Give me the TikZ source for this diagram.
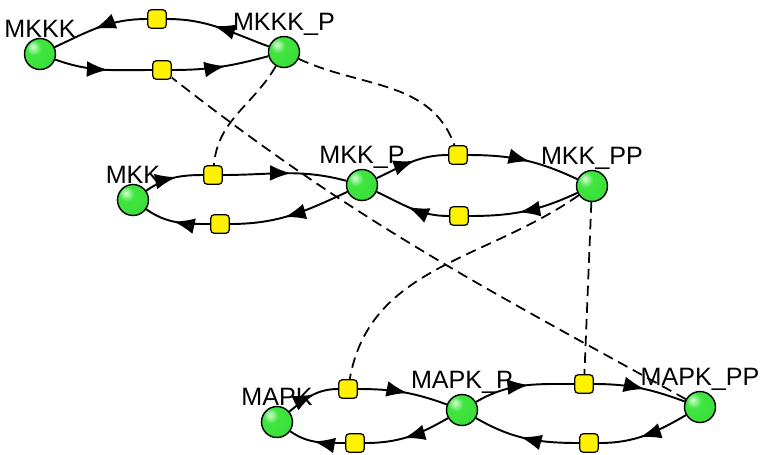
\documentclass[tikz,border=0pt]{standalone}
\usepackage{fontspec}
\setmainfont{Liberation Sans}
\usetikzlibrary{arrows.meta,decorations.markings}

\definecolor{speciesgreen}{rgb}{0.25,0.9,0.25}
\definecolor{speciesedge}{rgb}{0.1,0.7,0.1}
\definecolor{reactionyellow}{rgb}{1,0.95,0}
\pgfdeclareradialshading{speciesball}{\pgfpoint{-12bp}{12bp}}{color(0bp)=(white!85!green); color(12bp)=(speciesgreen); color(40bp)=(speciesgreen!80!speciesedge); color(70bp)=(speciesedge)}

\begin{document}
\begin{tikzpicture}[x=0.02cm, y=-0.02cm,
    species/.style={circle, draw=black, line width=0.8pt, shading=speciesball, minimum size=0.62cm, inner sep=0pt, label distance=-0.5pt},
    reaction/.style={rectangle, rounded corners=2pt, draw=black, line width=0.7pt, fill=reactionyellow, minimum size=0.37cm, inner sep=0pt},
    lbl/.style={font=\fontsize{14.3}{16}\selectfont, inner sep=0pt},
    flow/.style={line width=1.1pt, postaction={decorate}, decoration={markings, mark=at position 0.55 with {\arrow{Latex[length=12pt,width=9pt]}}}},
    modifier/.style={line width=1pt, dash pattern=on 6pt off 3.5pt}]
            \useasboundingbox (0,0) rectangle (763,454);

            \node[species, label={[lbl]above:MKKK}] (MKKK) at (40,54) {};
            \node[species, label={[lbl]above:MKKK\_P}] (MKKK_P) at (284,52) {};
            \node[species, label={[lbl]above:MKK}] (MKK) at (133,200) {};
            \node[species, label={[lbl]above:MKK\_P}] (MKK_P) at (362,185) {};
            \node[species, label={[lbl]above:MKK\_PP}] (MKK_PP) at (592,186) {};
            \node[species, label={[lbl]above:MAPK}] (MAPK) at (277,422) {};
            \node[species, label={[lbl]above:MAPK\_P}] (MAPK_P) at (462,410) {};
            \node[species, label={[lbl]above:MAPK\_PP}] (MAPK_PP) at (700,407) {};

            \node[reaction] (r1) at (157,19) {};
            \node[reaction] (r2) at (162,70) {};
            \node[reaction] (r3) at (213,175) {};
            \node[reaction] (r4) at (220,224) {};
            \node[reaction] (r5) at (458,155) {};
            \node[reaction] (r6) at (459,216) {};
            \node[reaction] (r7) at (348,389) {};
            \node[reaction] (r8) at (355,443) {};
            \node[reaction] (r9) at (584,384) {};
            \node[reaction] (r10) at (589,443) {};

            \draw[flow] (MKKK) to[out=-20, in=180] (r2);
            \draw[flow] (r2) to[out=0, in=195] (MKKK_P);
            \draw[flow] (MKKK_P) to[out=160, in=0] (r1);
            \draw[flow] (r1) to[out=180, in=25] (MKKK);

            \draw[flow] (MKK) to[out=35, in=180] (r3);
            \draw[flow] (r3) to[out=0, in=165] (MKK_P);
            \draw[flow] (MKK_P) to[out=205, in=0] (r4);
            \draw[flow] (r4) to[out=180, in=-35] (MKK);

            \draw[flow] (MKK_P) to[out=25, in=180] (r5);
            \draw[flow] (r5) to[out=0, in=155] (MKK_PP);
            \draw[flow] (MKK_PP) to[out=205, in=0] (r6);
            \draw[flow] (r6) to[out=180, in=-25] (MKK_P);

            \draw[flow] (MAPK) to[out=40, in=180] (r7);
            \draw[flow] (r7) to[out=0, in=160] (MAPK_P);
            \draw[flow] (MAPK_P) to[out=210, in=0] (r8);
            \draw[flow] (r8) to[out=180, in=-35] (MAPK);

            \draw[flow] (MAPK_P) to[out=30, in=180] (r9);
            \draw[flow] (r9) to[out=0, in=160] (MAPK_PP);
            \draw[flow] (MAPK_PP) to[out=210, in=0] (r10);
            \draw[flow] (r10) to[out=180, in=-30] (MAPK_P);

            \draw[modifier] (MKKK_P) to[out=240, in=85] (r3);
            \draw[modifier] (MKKK_P) to[out=-25, in=110] (r5);
            \draw[modifier] (MAPK_PP) to[out=151, in=-38] (r2);
            \draw[modifier] (MKK_PP) to[out=215, in=80] (r7);
            \draw[modifier] (MKK_PP) -- (r9);
        \end{tikzpicture}
\end{document}
